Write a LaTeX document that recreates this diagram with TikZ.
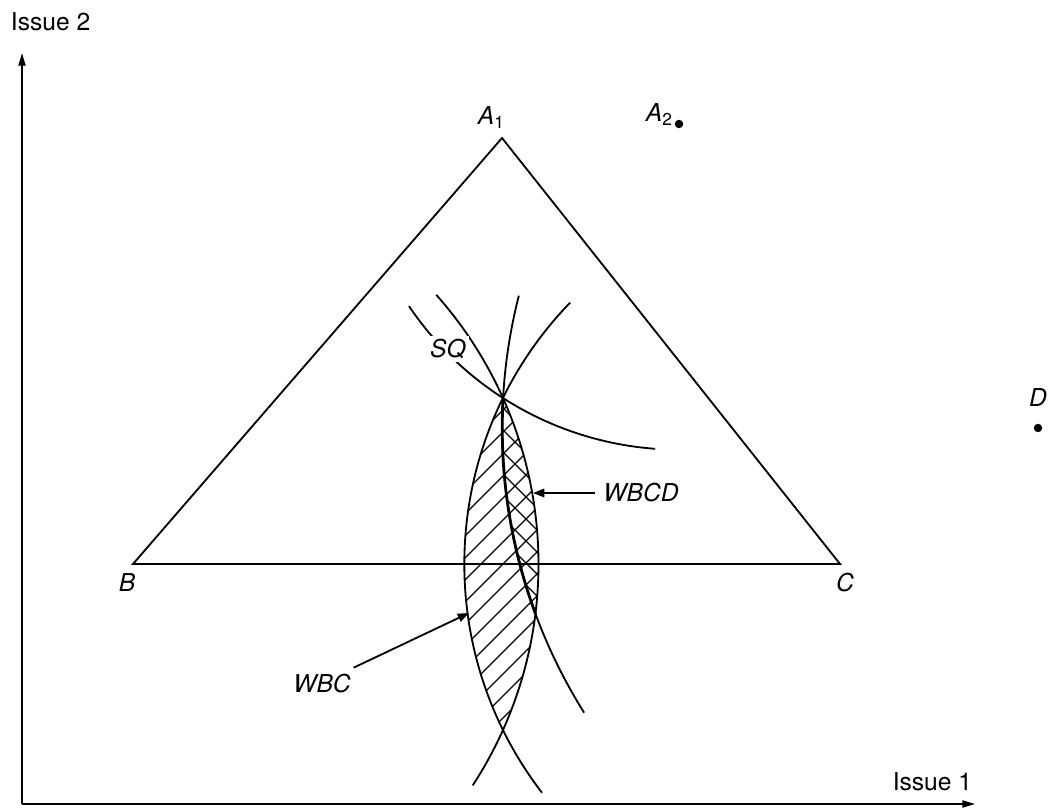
\documentclass[tikz,border=0pt]{standalone}
\usepackage{fontspec}
\setmainfont{TeX Gyre Heros}
\usetikzlibrary{positioning,arrows.meta,calc}

\begin{document}
\begin{tikzpicture}[x=0.025cm, y=0.025cm, line width=1.3pt,
      font=\fontsize{17.5}{20}\selectfont,
      >={Triangle[length=8pt,width=6pt]},
      axarrow/.style={-{Triangle[length=9pt,width=5pt]}},
      lbl/.style={inner sep=0pt, font=\fontsize{17.5}{20}\selectfont\itshape},
      axlbl/.style={inner sep=0pt},
      dot/.style={circle, fill, inner sep=0pt, minimum size=6pt},
      hatch/.style={line width=0.8pt}]
    \useasboundingbox (0,0) rectangle (1049,807);
    % ideal points and status quo
    \coordinate (O) at (22,3);
    \coordinate (ytip) at (22,754);
    \coordinate (xtip) at (975,3);
    \coordinate (A1) at (502,669);
    \coordinate (B) at (133,243);
    \coordinate (C) at (840,243);
    \coordinate (SQ) at (503,409);
    \node[dot] (A2) at (679,683) {};
    \node[dot] (D) at (1038,379) {};
    % win sets
    \begin{scope}
      \clip (B) circle[radius=405.5];
      \clip (C) circle[radius=375.7];
      \foreach \k in {-480,-458,...,-30}
        \draw[hatch] (440,{440+\k}) -- (560,{560+\k});
      \clip (D.center) circle[radius=535.8];
      \foreach \k in {660,682,...,990}
        \draw[hatch] (440,{\k-440}) -- (560,{\k-560});
    \end{scope}
    % axes
    \draw[axarrow] (O) -- (ytip);
    \draw[axarrow] (O) -- (xtip);
    \node[axlbl, anchor=west] (issue2) at (10,785) {Issue 2};
    \node[axlbl, anchor=east] (issue1) at (973,25) {Issue 1};
    % triangle
    \draw (A1) -- (B) -- (C) -- cycle;
    % indifference curves through SQ
    \draw (B) ++(41.6:405.5) arc[start angle=41.6, end angle=-33.1, radius=405.5];
    \draw (C) ++(135.9:375.7) arc[start angle=135.9, end angle=217.5, radius=375.7];
    \draw (A2.center) ++(214:325.7) arc[start angle=214, end angle=265.8, radius=325.7];
    \draw (D.center) ++(165.7:535.8) arc[start angle=165.7, end angle=212.1, radius=535.8];
    \draw[line width=2pt] (D.center) ++(176.8:535.8) arc[start angle=176.8, end angle=200.3, radius=535.8];
    % labels
    \node[lbl, anchor=base west] (lblA1) at (477,682) {A\textsubscript{\upshape 1}};
    \node[lbl, anchor=base west] (lblA2) at (645,685) {A\textsubscript{\upshape 2}};
    \node[lbl] (lblB) at (127,224) {B};
    \node[lbl] (lblC) at (845,224) {C};
    \node[lbl, above=11pt of D] (lblD) {D};
    \node[lbl, fill=white, inner sep=2pt] (lblSQ) at (448,458) {SQ};
    \node[lbl] (lblWBCD) at (641,314) {WBCD};
    \node[lbl] (lblWBC) at (322,123) {WBC};
    \coordinate (tipWBCD) at (533,314);
    \coordinate (tipWBC) at (469,194);
    \draw[->] ([xshift=-5pt]lblWBCD.west) -- (tipWBCD);
    \draw[->] ([shift={(2,6)}]lblWBC.north east) -- (tipWBC);
\end{tikzpicture}
\end{document}
